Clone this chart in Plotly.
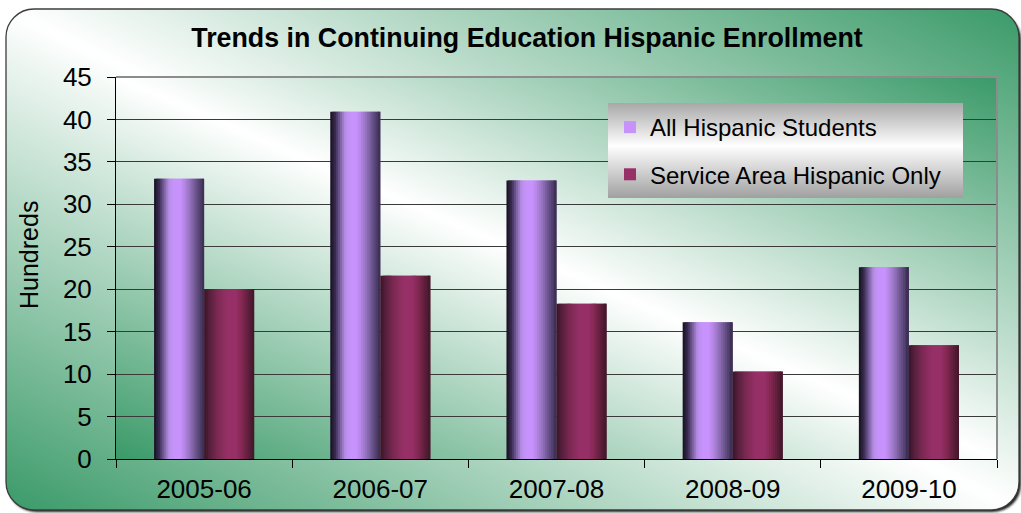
import base64
import plotly.graph_objects as go

# Enrollment (in hundreds) by academic year
years = ["2005-06", "2006-07", "2007-08", "2008-09", "2009-10"]
all_hispanic = [33.0, 40.9, 32.8, 16.1, 22.6]
service_area = [20.0, 21.6, 18.3, 10.3, 13.4]
series_names = ["All Hispanic Students", "Service Area Hispanic Only"]
y_ticks = [0, 5, 10, 15, 20, 25, 30, 35, 40, 45]

W, H = 1021, 513
ML, MR, MT, MB = 116, 24, 77, 54
PW, PH = W - ML - MR, H - MT - MB
FONT = "Liberation Sans, Arial, sans-serif"

# Cylinder-like shading across each bar: (position across bar, colour)
purple_shade = [(0.0, "#161020"), (0.1, "#3a2c50"), (0.2, "#7a60a0"), (0.3, "#b890e8"),
                (0.4, "#c892fc"), (0.52, "#c892fc"), (0.6, "#b888e8"), (0.73, "#9070b8"),
                (0.87, "#604c80"), (1.0, "#3a2c50")]
maroon_shade = [(0.0, "#3a1428"), (0.1, "#55203c"), (0.26, "#7a2a52"), (0.45, "#963066"),
                (0.65, "#963066"), (0.77, "#80284f"), (0.9, "#5a1e3a"), (1.0, "#401828")]


def hex_rgb(h):
    h = h.lstrip("#")
    return tuple(int(h[i:i + 2], 16) for i in (0, 2, 4))


def shade_at(stops, t):
    for (t0, c0), (t1, c1) in zip(stops, stops[1:]):
        if t0 <= t <= t1:
            a = 0 if t1 == t0 else (t - t0) / (t1 - t0)
            r0, g0, b0 = hex_rgb(c0)
            r1, g1, b1 = hex_rgb(c1)
            return "rgb(%d,%d,%d)" % (r0 + (r1 - r0) * a, g0 + (g1 - g0) * a, b0 + (b1 - b0) * a)
    return stops[-1][1]


def svg_uri(svg):
    return "data:image/svg+xml;base64," + base64.b64encode(svg.encode()).decode()


frame_svg = f'''<svg xmlns="http://www.w3.org/2000/svg" width="{W}" height="{H}" viewBox="0 0 {W} {H}">
<defs>
<linearGradient id="g" x1="0" y1="1" x2="1" y2="0">
<stop offset="0" stop-color="#3a9a68"/><stop offset="0.5" stop-color="#ffffff"/><stop offset="1" stop-color="#3a9a68"/>
</linearGradient>
<filter id="b" x="-5%" y="-5%" width="110%" height="110%"><feGaussianBlur stdDeviation="1.2"/></filter>
</defs>
<rect x="8" y="12" width="1013" height="500" rx="28" fill="#1a1a1a" filter="url(#b)"/>
<rect x="6" y="9" width="1013" height="501" rx="28" fill="url(#g)" stroke="#3c3c3c" stroke-width="1.3"/>
</svg>'''

plot_svg = f'''<svg xmlns="http://www.w3.org/2000/svg" width="{PW}" height="{PH}" viewBox="0 0 {PW} {PH}" preserveAspectRatio="none">
<defs>
<linearGradient id="p" x1="0" y1="1" x2="1" y2="0">
<stop offset="0" stop-color="#3a9a68"/><stop offset="0.5" stop-color="#ffffff"/><stop offset="1" stop-color="#3a9a68"/>
</linearGradient>
</defs>
<rect x="0" y="0" width="{PW}" height="{PH}" fill="url(#p)"/>
</svg>'''

legend_svg = '''<svg xmlns="http://www.w3.org/2000/svg" width="355" height="95" viewBox="0 0 355 95" preserveAspectRatio="none">
<defs>
<linearGradient id="l" x1="0" y1="0" x2="0" y2="1">
<stop offset="0" stop-color="#a8a8a8"/><stop offset="0.45" stop-color="#ffffff"/><stop offset="1" stop-color="#a0a0a0"/>
</linearGradient>
</defs>
<rect x="0" y="0" width="355" height="95" fill="url(#l)"/>
</svg>'''

fig = go.Figure()

BAR_W = 0.284  # width of one bar in category units
N_STRIPS = 26
strip_w = BAR_W / N_STRIPS
for s, (name, vals, stops) in enumerate([(series_names[0], all_hispanic, purple_shade),
                                          (series_names[1], service_area, maroon_shade)]):
    base = -BAR_W + s * BAR_W
    legend_strip = N_STRIPS // 2 - 1
    for i in range(N_STRIPS):
        t = (i + 0.5) / N_STRIPS
        # strips overlap the next one so no seams show between them
        fig.add_trace(go.Bar(
            x=years, y=vals,
            offset=base + i * strip_w,
            width=strip_w * 2 if i < N_STRIPS - 1 else strip_w,
            marker=dict(color=shade_at(stops, t), line=dict(width=0)),
            name=name,
            legendgroup=name,
            showlegend=(i == legend_strip),
            hoverinfo="skip" if i != legend_strip else "x+y+name",
        ))

fig.update_layout(
    width=W, height=H,
    margin=dict(l=ML, r=MR, t=MT, b=MB, autoexpand=False),
    paper_bgcolor="white",
    plot_bgcolor="rgba(0,0,0,0)",
    barmode="overlay",
    font=dict(family=FONT, color="black"),
    title=dict(text="<b>Trends in Continuing Education Hispanic Enrollment</b>",
               font=dict(family=FONT, size=26.8, color="black"),
               x=527 / W, xref="container", xanchor="center",
               y=1 - 38 / H, yref="container", yanchor="middle"),
    showlegend=True,
    legend=dict(x=(610 - ML) / PW, y=1 - (105 - MT) / PH, xanchor="left", yanchor="top",
                bgcolor="rgba(0,0,0,0)", borderwidth=0, tracegroupgap=13,
                font=dict(family=FONT, size=24, color="black")),
    xaxis=dict(type="category", showgrid=False, showline=True, linecolor="black", linewidth=1,
               ticks="outside", tickson="boundaries", ticklen=8, tickcolor="black",
               ticklabelstandoff=7,
               tickfont=dict(family=FONT, size=26, color="black"), range=[-0.5, 4.5]),
    yaxis=dict(range=[0, 45], tickvals=y_ticks, showgrid=True, gridcolor="#3a3a3a", gridwidth=1,
               showline=True, linecolor="black", linewidth=1, ticks="outside", ticklen=8,
               ticklabelstandoff=10,
               tickcolor="black", tickfont=dict(family=FONT, size=26, color="black"),
               zeroline=False),
    images=[
        dict(source=svg_uri(frame_svg), xref="paper", yref="paper",
             x=-ML / PW, y=1 + MT / PH, sizex=W / PW, sizey=H / PH,
             xanchor="left", yanchor="top", sizing="stretch", layer="below"),
        dict(source=svg_uri(plot_svg), xref="paper", yref="paper",
             x=0, y=1, sizex=1, sizey=1, xanchor="left", yanchor="top",
             sizing="stretch", layer="below"),
        dict(source=svg_uri(legend_svg), xref="paper", yref="paper",
             x=(608 - ML) / PW, y=1 - (103 - MT) / PH, sizex=355 / PW, sizey=95 / PH,
             xanchor="left", yanchor="top", sizing="stretch", layer="above"),
    ],
    shapes=[
        dict(type="line", xref="paper", yref="paper", x0=0, x1=1, y0=1, y1=1,
             line=dict(color="#8c8c8c", width=2), layer="above"),
        dict(type="line", xref="paper", yref="paper", x0=1, x1=1, y0=0, y1=1,
             line=dict(color="#8c8c8c", width=2), layer="above"),
    ],
    annotations=[
        dict(text="Hundreds", textangle=-90, xref="paper", yref="paper",
             x=(29 - ML) / PW, y=(459 - 255) / PH, xanchor="center", yanchor="middle",
             showarrow=False, font=dict(family=FONT, size=25, color="black")),
    ],
)

fig.write_html("out.html")
